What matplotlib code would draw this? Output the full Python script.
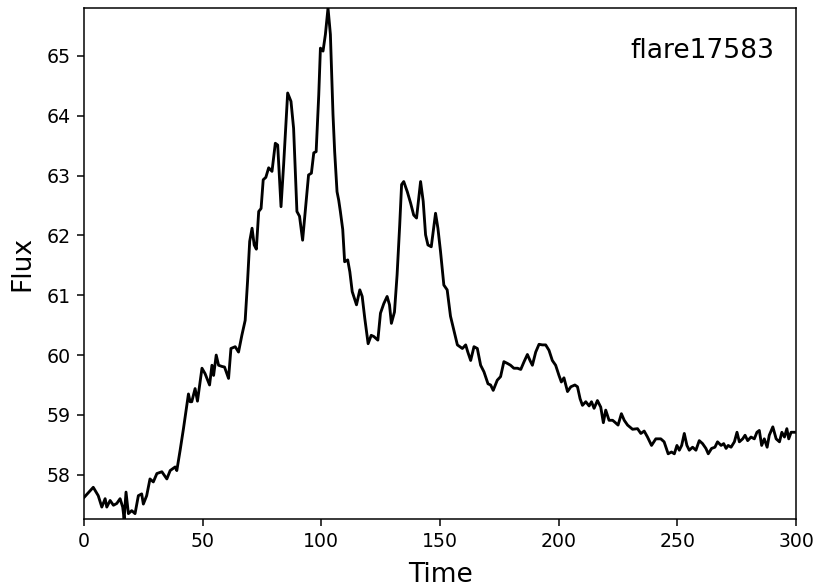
# -*- coding: utf-8 -*-
"""Light curve of a single flare event"""

import matplotlib
matplotlib.use('Agg')
import matplotlib.pyplot as plt

flare_id = 'flare17583'

time = [0.0, 3.9, 6.0, 7.5, 8.9, 9.6, 11.0, 12.4, 13.8, 15.2,
        16.3, 16.9, 17.7, 18.7, 20.1, 21.5, 22.9, 24.3, 25.0, 26.4,
        27.8, 29.2, 30.7, 32.8, 34.9, 36.3, 38.4, 39.1, 40.5, 41.9,
        43.3, 44.0, 44.7, 45.4, 46.8, 47.8, 49.7, 51.0, 52.9, 53.9,
        54.6, 55.7, 56.7, 58.1, 59.2, 60.9, 61.9, 63.7, 65.1, 66.5,
        67.9, 68.9, 69.8, 70.8, 71.7, 72.6, 73.6, 74.6, 75.5, 76.6,
        77.8, 79.2, 80.6, 81.6, 83.0, 84.1, 85.8, 87.2, 88.3, 89.7,
        90.8, 92.1, 93.2, 94.6, 95.8, 96.8, 97.8, 98.9, 99.6, 100.7,
        101.7, 102.8, 103.8, 104.9, 105.6, 106.6, 107.3, 108.0, 109.0, 109.8,
        111.1, 112.0, 113.0, 114.8, 116.2, 117.2, 118.3, 119.7, 121.0, 122.1,
        123.8, 124.9, 126.3, 127.7, 128.7, 129.5, 130.8, 131.9, 133.0, 133.8,
        134.7, 136.2, 137.6, 138.9, 140.1, 141.0, 141.8, 142.9, 143.9, 144.9,
        146.3, 147.1, 148.1, 149.1, 150.2, 151.6, 153.0, 154.4, 155.8, 157.3,
        159.4, 160.8, 161.7, 162.9, 164.3, 165.7, 167.1, 168.5, 170.2, 171.3,
        172.4, 174.1, 175.5, 176.9, 178.4, 179.7, 181.1, 182.6, 184.0, 185.4,
        186.8, 187.9, 188.9, 190.3, 191.7, 193.1, 194.5, 195.9, 197.3, 198.7,
        200.1, 201.1, 202.2, 203.7, 205.1, 206.8, 207.9, 209.0, 210.0, 211.4,
        212.8, 213.8, 214.9, 216.3, 217.7, 218.8, 219.8, 221.2, 222.7, 223.6,
        225.0, 226.4, 227.6, 229.0, 231.1, 233.2, 234.6, 236.0, 237.4, 239.1,
        240.9, 243.0, 244.4, 246.1, 247.5, 248.7, 249.8, 250.8, 251.8, 252.9,
        254.0, 255.0, 256.4, 257.8, 259.2, 260.6, 262.0, 263.0, 264.4, 265.8,
        266.9, 268.4, 269.5, 270.5, 271.4, 272.6, 274.0, 275.1, 276.1, 277.5,
        278.5, 279.6, 281.0, 282.4, 283.5, 284.5, 285.5, 286.6, 287.8, 288.7,
        290.2, 291.6, 293.0, 294.0, 295.1, 296.1, 296.9, 297.9, 299.3]

flux = [57.62, 57.79, 57.65, 57.46, 57.60, 57.46, 57.57, 57.49, 57.52, 57.60,
        57.46, 57.26, 57.71, 57.35, 57.40, 57.35, 57.65, 57.68, 57.51, 57.65,
        57.93, 57.88, 58.02, 58.05, 57.93, 58.07, 58.13, 58.07, 58.41, 58.77,
        59.16, 59.35, 59.22, 59.22, 59.44, 59.23, 59.78, 59.69, 59.50, 59.83,
        59.66, 60.00, 59.83, 59.81, 59.80, 59.61, 60.11, 60.14, 60.05, 60.33,
        60.58, 61.23, 61.90, 62.12, 61.84, 61.77, 62.40, 62.45, 62.93, 62.97,
        63.13, 63.07, 63.54, 63.51, 62.48, 63.18, 64.38, 64.24, 63.79, 62.40,
        62.32, 61.92, 62.40, 63.01, 63.04, 63.38, 63.40, 64.35, 65.13, 65.08,
        65.36, 65.80, 65.36, 64.02, 63.40, 62.73, 62.59, 62.40, 62.10, 61.56,
        61.59, 61.39, 61.06, 60.84, 61.09, 60.98, 60.61, 60.19, 60.33, 60.31,
        60.25, 60.70, 60.86, 60.98, 60.84, 60.53, 60.72, 61.34, 62.17, 62.85,
        62.90, 62.73, 62.54, 62.34, 62.29, 62.62, 62.90, 62.57, 62.01, 61.84,
        61.81, 62.06, 62.37, 62.12, 61.73, 61.17, 61.09, 60.65, 60.42, 60.17,
        60.11, 60.17, 60.05, 59.91, 60.14, 60.11, 59.83, 59.72, 59.52, 59.50,
        59.41, 59.58, 59.64, 59.89, 59.86, 59.83, 59.78, 59.78, 59.76, 59.89,
        60.01, 59.91, 59.83, 60.05, 60.18, 60.17, 60.17, 60.08, 59.91, 59.83,
        59.66, 59.55, 59.62, 59.39, 59.47, 59.50, 59.47, 59.27, 59.16, 59.22,
        59.15, 59.22, 59.11, 59.24, 59.13, 58.87, 59.08, 58.91, 58.91, 58.88,
        58.83, 59.02, 58.91, 58.83, 58.76, 58.77, 58.69, 58.73, 58.63, 58.49,
        58.60, 58.60, 58.55, 58.35, 58.38, 58.35, 58.49, 58.41, 58.49, 58.69,
        58.49, 58.41, 58.46, 58.41, 58.57, 58.52, 58.44, 58.35, 58.44, 58.46,
        58.55, 58.49, 58.52, 58.44, 58.49, 58.46, 58.55, 58.71, 58.55, 58.60,
        58.66, 58.57, 58.63, 58.60, 58.71, 58.74, 58.49, 58.60, 58.46, 58.66,
        58.80, 58.60, 58.55, 58.71, 58.63, 58.77, 58.60, 58.71, 58.71]

DPI = 136
fig, ax = plt.subplots(figsize=(814 / DPI, 586 / DPI), dpi=DPI)
fig.subplots_adjust(left=0.1032, right=0.978, top=0.9863, bottom=0.1143)

ax.plot(time, flux, color='k', linewidth=1.5)

ax.set_xlim(0, 300)
ax.set_ylim(min(flux), max(flux))
ax.set_xlabel('Time', fontsize=14, labelpad=5.5)
ax.set_ylabel('Flux', fontsize=14, labelpad=6)
ax.tick_params(labelsize=10)

# 右上角标注耀斑编号
ax.text(0.97, 0.915, flare_id, transform=ax.transAxes,
        ha='right', va='center', fontsize=14)

fig.savefig('out.png', dpi=DPI)
plt.close(fig)
